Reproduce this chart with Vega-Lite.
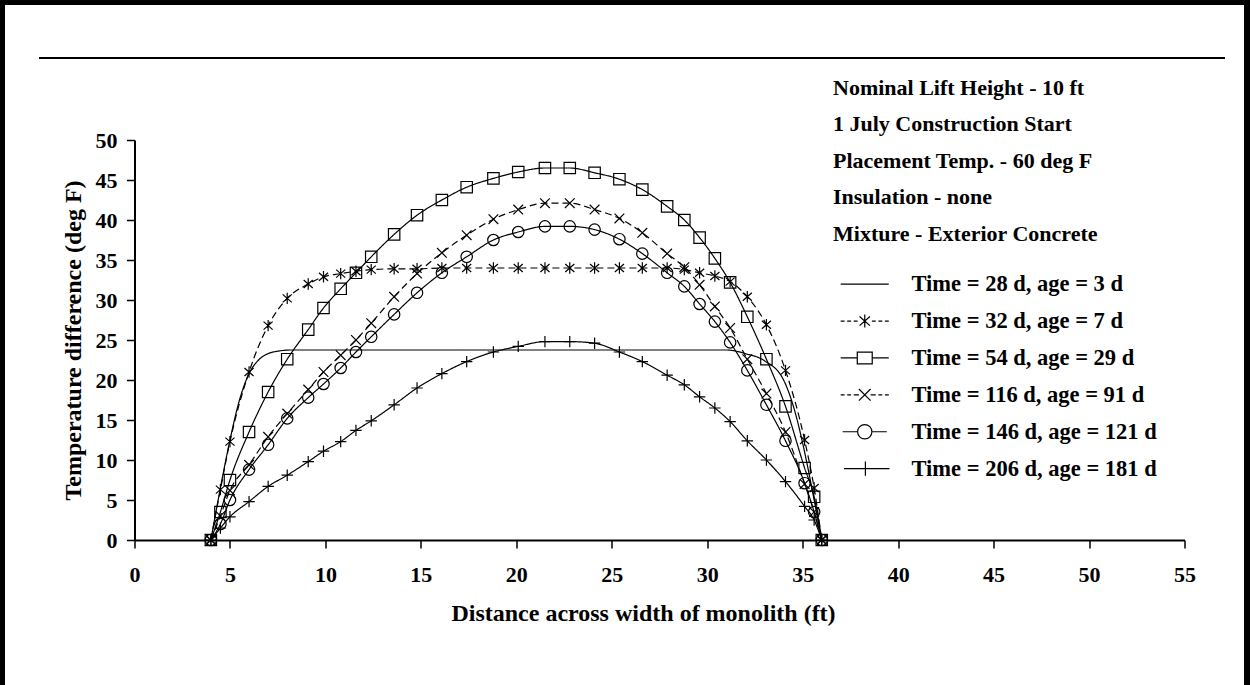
{
  "$schema": "https://vega.github.io/schema/vega-lite/v6.json",
  "width": 1050,
  "height": 400,
  "autosize": {"type": "none"},
  "padding": {"left": 134.5, "top": 140, "right": 65.5, "bottom": 145},
  "background": "white",
  "config": {
    "view": {"stroke": null},
    "font": "Liberation Serif",
    "axis": {
      "domainColor": "black", "domainWidth": 2, "tickColor": "black", "tickWidth": 1.5, "tickSize": 8,
      "labelFont": "Liberation Serif", "labelFontWeight": "bold", "labelFontSize": 22, "labelColor": "black",
      "titleFont": "Liberation Serif", "titleFontWeight": "bold", "titleFontSize": 24, "titleColor": "black",
      "grid": false, "labelFlush": false, "labelOverlap": false
    },
    "axisY": {"tickCount": 14},
    "axisX": {"tickCount": 14},
    "legend": {
      "padding": 0, "offset": 0,
      "titleFont": "Liberation Serif", "titleFontWeight": "bold", "titleFontSize": 22, "titleColor": "black",
      "titleLineHeight": 36.6, "titleAnchor": "start", "titleBaseline": "top", "titleLimit": 500, "titlePadding": 27,
      "labelFont": "Liberation Serif", "labelFontWeight": "bold", "labelFontSize": 22.5, "labelColor": "black", "labelLimit": 500,
      "symbolStrokeColor": "black", "symbolStrokeWidth": 1.2, "symbolFillColor": "transparent", "symbolOpacity": 1
    }
  },
  "datasets": {
    "curves": [
      {"series": "Time = 28 d, age = 3 d", "x": 4, "y": 0},
      {"series": "Time = 28 d, age = 3 d", "x": 4.5, "y": 6.5},
      {"series": "Time = 28 d, age = 3 d", "x": 5, "y": 12.5},
      {"series": "Time = 28 d, age = 3 d", "x": 5.5, "y": 17.5},
      {"series": "Time = 28 d, age = 3 d", "x": 6, "y": 20.8},
      {"series": "Time = 28 d, age = 3 d", "x": 6.5, "y": 22.5},
      {"series": "Time = 28 d, age = 3 d", "x": 7, "y": 23.3},
      {"series": "Time = 28 d, age = 3 d", "x": 7.5, "y": 23.6},
      {"series": "Time = 28 d, age = 3 d", "x": 8.2, "y": 23.75},
      {"series": "Time = 28 d, age = 3 d", "x": 31, "y": 23.75},
      {"series": "Time = 28 d, age = 3 d", "x": 32, "y": 23.3},
      {"series": "Time = 28 d, age = 3 d", "x": 33, "y": 22.4},
      {"series": "Time = 28 d, age = 3 d", "x": 34, "y": 20},
      {"series": "Time = 28 d, age = 3 d", "x": 34.6, "y": 16},
      {"series": "Time = 28 d, age = 3 d", "x": 35.1, "y": 11},
      {"series": "Time = 28 d, age = 3 d", "x": 35.6, "y": 5},
      {"series": "Time = 28 d, age = 3 d", "x": 36, "y": 0},

      {"series": "Time = 32 d, age = 7 d", "x": 4, "y": 0},
      {"series": "Time = 32 d, age = 7 d", "x": 4.5, "y": 6.3},
      {"series": "Time = 32 d, age = 7 d", "x": 5, "y": 12.3},
      {"series": "Time = 32 d, age = 7 d", "x": 6, "y": 21},
      {"series": "Time = 32 d, age = 7 d", "x": 7, "y": 26.8},
      {"series": "Time = 32 d, age = 7 d", "x": 8, "y": 30.2},
      {"series": "Time = 32 d, age = 7 d", "x": 9.1, "y": 32},
      {"series": "Time = 32 d, age = 7 d", "x": 9.9, "y": 32.9},
      {"series": "Time = 32 d, age = 7 d", "x": 10.8, "y": 33.3},
      {"series": "Time = 32 d, age = 7 d", "x": 11.6, "y": 33.6},
      {"series": "Time = 32 d, age = 7 d", "x": 12.4, "y": 33.8},
      {"series": "Time = 32 d, age = 7 d", "x": 13.6, "y": 33.9},
      {"series": "Time = 32 d, age = 7 d", "x": 14.8, "y": 33.9},
      {"series": "Time = 32 d, age = 7 d", "x": 16.1, "y": 34},
      {"series": "Time = 32 d, age = 7 d", "x": 17.4, "y": 34},
      {"series": "Time = 32 d, age = 7 d", "x": 18.8, "y": 34},
      {"series": "Time = 32 d, age = 7 d", "x": 20.1, "y": 34},
      {"series": "Time = 32 d, age = 7 d", "x": 21.5, "y": 34},
      {"series": "Time = 32 d, age = 7 d", "x": 22.8, "y": 34},
      {"series": "Time = 32 d, age = 7 d", "x": 24.1, "y": 34},
      {"series": "Time = 32 d, age = 7 d", "x": 25.4, "y": 34},
      {"series": "Time = 32 d, age = 7 d", "x": 26.6, "y": 34},
      {"series": "Time = 32 d, age = 7 d", "x": 27.9, "y": 34},
      {"series": "Time = 32 d, age = 7 d", "x": 28.8, "y": 33.8},
      {"series": "Time = 32 d, age = 7 d", "x": 29.6, "y": 33.4},
      {"series": "Time = 32 d, age = 7 d", "x": 30.4, "y": 33},
      {"series": "Time = 32 d, age = 7 d", "x": 31.2, "y": 32.3},
      {"series": "Time = 32 d, age = 7 d", "x": 32.1, "y": 30.4},
      {"series": "Time = 32 d, age = 7 d", "x": 33.1, "y": 26.9},
      {"series": "Time = 32 d, age = 7 d", "x": 34.1, "y": 21.2},
      {"series": "Time = 32 d, age = 7 d", "x": 35.1, "y": 12.5},
      {"series": "Time = 32 d, age = 7 d", "x": 35.6, "y": 6.5},
      {"series": "Time = 32 d, age = 7 d", "x": 36, "y": 0},

      {"series": "Time = 54 d, age = 29 d", "x": 4, "y": 0},
      {"series": "Time = 54 d, age = 29 d", "x": 4.5, "y": 3.5},
      {"series": "Time = 54 d, age = 29 d", "x": 5, "y": 7.5},
      {"series": "Time = 54 d, age = 29 d", "x": 6, "y": 13.5},
      {"series": "Time = 54 d, age = 29 d", "x": 7, "y": 18.5},
      {"series": "Time = 54 d, age = 29 d", "x": 8, "y": 22.6},
      {"series": "Time = 54 d, age = 29 d", "x": 9.1, "y": 26.3},
      {"series": "Time = 54 d, age = 29 d", "x": 9.9, "y": 29},
      {"series": "Time = 54 d, age = 29 d", "x": 10.8, "y": 31.4},
      {"series": "Time = 54 d, age = 29 d", "x": 11.6, "y": 33.4},
      {"series": "Time = 54 d, age = 29 d", "x": 12.4, "y": 35.4},
      {"series": "Time = 54 d, age = 29 d", "x": 13.6, "y": 38.2},
      {"series": "Time = 54 d, age = 29 d", "x": 14.8, "y": 40.6},
      {"series": "Time = 54 d, age = 29 d", "x": 16.1, "y": 42.5},
      {"series": "Time = 54 d, age = 29 d", "x": 17.4, "y": 44.1},
      {"series": "Time = 54 d, age = 29 d", "x": 18.8, "y": 45.2},
      {"series": "Time = 54 d, age = 29 d", "x": 20.1, "y": 46},
      {"series": "Time = 54 d, age = 29 d", "x": 21.5, "y": 46.5},
      {"series": "Time = 54 d, age = 29 d", "x": 22.8, "y": 46.5},
      {"series": "Time = 54 d, age = 29 d", "x": 24.1, "y": 45.9},
      {"series": "Time = 54 d, age = 29 d", "x": 25.4, "y": 45.1},
      {"series": "Time = 54 d, age = 29 d", "x": 26.6, "y": 43.8},
      {"series": "Time = 54 d, age = 29 d", "x": 27.9, "y": 41.7},
      {"series": "Time = 54 d, age = 29 d", "x": 28.8, "y": 40},
      {"series": "Time = 54 d, age = 29 d", "x": 29.6, "y": 37.8},
      {"series": "Time = 54 d, age = 29 d", "x": 30.4, "y": 35.2},
      {"series": "Time = 54 d, age = 29 d", "x": 31.2, "y": 32.2},
      {"series": "Time = 54 d, age = 29 d", "x": 32.1, "y": 27.9},
      {"series": "Time = 54 d, age = 29 d", "x": 33.1, "y": 22.6},
      {"series": "Time = 54 d, age = 29 d", "x": 34.1, "y": 16.7},
      {"series": "Time = 54 d, age = 29 d", "x": 35.1, "y": 9},
      {"series": "Time = 54 d, age = 29 d", "x": 35.6, "y": 5.4},
      {"series": "Time = 54 d, age = 29 d", "x": 36, "y": 0},

      {"series": "Time = 116 d, age = 91 d", "x": 4, "y": 0},
      {"series": "Time = 116 d, age = 91 d", "x": 4.5, "y": 3},
      {"series": "Time = 116 d, age = 91 d", "x": 5, "y": 6.2},
      {"series": "Time = 116 d, age = 91 d", "x": 6, "y": 9.4},
      {"series": "Time = 116 d, age = 91 d", "x": 7, "y": 12.9},
      {"series": "Time = 116 d, age = 91 d", "x": 8, "y": 15.8},
      {"series": "Time = 116 d, age = 91 d", "x": 9.1, "y": 18.8},
      {"series": "Time = 116 d, age = 91 d", "x": 9.9, "y": 21},
      {"series": "Time = 116 d, age = 91 d", "x": 10.8, "y": 23.1},
      {"series": "Time = 116 d, age = 91 d", "x": 11.6, "y": 25},
      {"series": "Time = 116 d, age = 91 d", "x": 12.4, "y": 27.1},
      {"series": "Time = 116 d, age = 91 d", "x": 13.6, "y": 30.4},
      {"series": "Time = 116 d, age = 91 d", "x": 14.8, "y": 33.3},
      {"series": "Time = 116 d, age = 91 d", "x": 16.1, "y": 35.9},
      {"series": "Time = 116 d, age = 91 d", "x": 17.4, "y": 38.1},
      {"series": "Time = 116 d, age = 91 d", "x": 18.8, "y": 40.1},
      {"series": "Time = 116 d, age = 91 d", "x": 20.1, "y": 41.3},
      {"series": "Time = 116 d, age = 91 d", "x": 21.5, "y": 42.1},
      {"series": "Time = 116 d, age = 91 d", "x": 22.8, "y": 42.1},
      {"series": "Time = 116 d, age = 91 d", "x": 24.1, "y": 41.3},
      {"series": "Time = 116 d, age = 91 d", "x": 25.4, "y": 40.2},
      {"series": "Time = 116 d, age = 91 d", "x": 26.6, "y": 38.4},
      {"series": "Time = 116 d, age = 91 d", "x": 27.9, "y": 35.8},
      {"series": "Time = 116 d, age = 91 d", "x": 28.8, "y": 34.1},
      {"series": "Time = 116 d, age = 91 d", "x": 29.6, "y": 31.9},
      {"series": "Time = 116 d, age = 91 d", "x": 30.4, "y": 29.2},
      {"series": "Time = 116 d, age = 91 d", "x": 31.2, "y": 26.5},
      {"series": "Time = 116 d, age = 91 d", "x": 32.1, "y": 22.6},
      {"series": "Time = 116 d, age = 91 d", "x": 33.1, "y": 18.3},
      {"series": "Time = 116 d, age = 91 d", "x": 34.1, "y": 13.5},
      {"series": "Time = 116 d, age = 91 d", "x": 35.1, "y": 7},
      {"series": "Time = 116 d, age = 91 d", "x": 35.6, "y": 3.5},
      {"series": "Time = 116 d, age = 91 d", "x": 36, "y": 0},

      {"series": "Time = 146 d, age = 121 d", "x": 4, "y": 0},
      {"series": "Time = 146 d, age = 121 d", "x": 4.5, "y": 2},
      {"series": "Time = 146 d, age = 121 d", "x": 5, "y": 5},
      {"series": "Time = 146 d, age = 121 d", "x": 6, "y": 8.8},
      {"series": "Time = 146 d, age = 121 d", "x": 7, "y": 11.9},
      {"series": "Time = 146 d, age = 121 d", "x": 8, "y": 15.2},
      {"series": "Time = 146 d, age = 121 d", "x": 9.1, "y": 17.8},
      {"series": "Time = 146 d, age = 121 d", "x": 9.9, "y": 19.5},
      {"series": "Time = 146 d, age = 121 d", "x": 10.8, "y": 21.5},
      {"series": "Time = 146 d, age = 121 d", "x": 11.6, "y": 23.5},
      {"series": "Time = 146 d, age = 121 d", "x": 12.4, "y": 25.4},
      {"series": "Time = 146 d, age = 121 d", "x": 13.6, "y": 28.2},
      {"series": "Time = 146 d, age = 121 d", "x": 14.8, "y": 30.9},
      {"series": "Time = 146 d, age = 121 d", "x": 16.1, "y": 33.4},
      {"series": "Time = 146 d, age = 121 d", "x": 17.4, "y": 35.4},
      {"series": "Time = 146 d, age = 121 d", "x": 18.8, "y": 37.5},
      {"series": "Time = 146 d, age = 121 d", "x": 20.1, "y": 38.5},
      {"series": "Time = 146 d, age = 121 d", "x": 21.5, "y": 39.2},
      {"series": "Time = 146 d, age = 121 d", "x": 22.8, "y": 39.2},
      {"series": "Time = 146 d, age = 121 d", "x": 24.1, "y": 38.8},
      {"series": "Time = 146 d, age = 121 d", "x": 25.4, "y": 37.6},
      {"series": "Time = 146 d, age = 121 d", "x": 26.6, "y": 35.8},
      {"series": "Time = 146 d, age = 121 d", "x": 27.9, "y": 33.4},
      {"series": "Time = 146 d, age = 121 d", "x": 28.8, "y": 31.7},
      {"series": "Time = 146 d, age = 121 d", "x": 29.6, "y": 29.5},
      {"series": "Time = 146 d, age = 121 d", "x": 30.4, "y": 27.3},
      {"series": "Time = 146 d, age = 121 d", "x": 31.2, "y": 24.7},
      {"series": "Time = 146 d, age = 121 d", "x": 32.1, "y": 21.2},
      {"series": "Time = 146 d, age = 121 d", "x": 33.1, "y": 16.9},
      {"series": "Time = 146 d, age = 121 d", "x": 34.1, "y": 12.4},
      {"series": "Time = 146 d, age = 121 d", "x": 35.1, "y": 7.1},
      {"series": "Time = 146 d, age = 121 d", "x": 35.6, "y": 3.5},
      {"series": "Time = 146 d, age = 121 d", "x": 36, "y": 0},

      {"series": "Time = 206 d, age = 181 d", "x": 4, "y": 0},
      {"series": "Time = 206 d, age = 181 d", "x": 4.5, "y": 1.5},
      {"series": "Time = 206 d, age = 181 d", "x": 5, "y": 2.9},
      {"series": "Time = 206 d, age = 181 d", "x": 6, "y": 4.8},
      {"series": "Time = 206 d, age = 181 d", "x": 7, "y": 6.7},
      {"series": "Time = 206 d, age = 181 d", "x": 8, "y": 8.1},
      {"series": "Time = 206 d, age = 181 d", "x": 9.1, "y": 9.8},
      {"series": "Time = 206 d, age = 181 d", "x": 9.9, "y": 11.1},
      {"series": "Time = 206 d, age = 181 d", "x": 10.8, "y": 12.3},
      {"series": "Time = 206 d, age = 181 d", "x": 11.6, "y": 13.7},
      {"series": "Time = 206 d, age = 181 d", "x": 12.4, "y": 14.9},
      {"series": "Time = 206 d, age = 181 d", "x": 13.6, "y": 16.9},
      {"series": "Time = 206 d, age = 181 d", "x": 14.8, "y": 19},
      {"series": "Time = 206 d, age = 181 d", "x": 16.1, "y": 20.8},
      {"series": "Time = 206 d, age = 181 d", "x": 17.4, "y": 22.3},
      {"series": "Time = 206 d, age = 181 d", "x": 18.8, "y": 23.5},
      {"series": "Time = 206 d, age = 181 d", "x": 20.1, "y": 24.2},
      {"series": "Time = 206 d, age = 181 d", "x": 21.5, "y": 24.8},
      {"series": "Time = 206 d, age = 181 d", "x": 22.8, "y": 24.8},
      {"series": "Time = 206 d, age = 181 d", "x": 24.1, "y": 24.6},
      {"series": "Time = 206 d, age = 181 d", "x": 25.4, "y": 23.5},
      {"series": "Time = 206 d, age = 181 d", "x": 26.6, "y": 22.3},
      {"series": "Time = 206 d, age = 181 d", "x": 27.9, "y": 20.6},
      {"series": "Time = 206 d, age = 181 d", "x": 28.8, "y": 19.4},
      {"series": "Time = 206 d, age = 181 d", "x": 29.6, "y": 17.9},
      {"series": "Time = 206 d, age = 181 d", "x": 30.4, "y": 16.5},
      {"series": "Time = 206 d, age = 181 d", "x": 31.2, "y": 14.8},
      {"series": "Time = 206 d, age = 181 d", "x": 32.1, "y": 12.4},
      {"series": "Time = 206 d, age = 181 d", "x": 33.1, "y": 10},
      {"series": "Time = 206 d, age = 181 d", "x": 34.1, "y": 7.3},
      {"series": "Time = 206 d, age = 181 d", "x": 35.1, "y": 4.2},
      {"series": "Time = 206 d, age = 181 d", "x": 35.6, "y": 2.5},
      {"series": "Time = 206 d, age = 181 d", "x": 36, "y": 0}
    ]
  },
  "data": {"name": "curves"},
  "resolve": {"scale": {"shape": "independent"}},
  "layer": [
    {
      "mark": {"type": "line", "color": "black", "strokeWidth": 1.2, "interpolate": "monotone"},
      "encoding": {
        "x": {
          "field": "x", "type": "quantitative",
          "scale": {"domain": [0, 55], "nice": false, "zero": false},
          "axis": {"values": [0,5,10,15,20,25,30,35,40,45,50,55], "tickCount": 14, "title": "Distance across width of monolith  (ft)", "labelPadding": 16, "titlePadding": 16, "titleX": 508.5}
        },
        "y": {
          "field": "y", "type": "quantitative",
          "scale": {"domain": [0, 50], "nice": false},
          "axis": {"values": [0,5,10,15,20,25,30,35,40,45,50], "tickCount": 14, "title": "Temperature difference  (deg F)", "labelPadding": 9.5, "titlePadding": 10}
        },
        "strokeDash": {
          "field": "series", "type": "nominal", "legend": null,
          "scale": {
            "domain": ["Time = 28 d, age = 3 d", "Time = 32 d, age = 7 d", "Time = 54 d, age = 29 d", "Time = 116 d, age = 91 d", "Time = 146 d, age = 121 d", "Time = 206 d, age = 181 d"],
            "range": [[1, 0], [7, 4], [1, 0], [7, 4], [1, 0], [1, 0]]
          }
        }
      }
    },
    {
      "mark": {"type": "rect", "fill": null, "stroke": "black", "strokeWidth": 5},
      "encoding": {
        "x": {"datum": -6.94, "type": "quantitative", "axis": {"values": [0,5,10,15,20,25,30,35,40,45,50,55], "tickCount": 14, "title": "Distance across width of monolith  (ft)", "labelPadding": 16, "titlePadding": 16, "titleX": 508.5}},
        "x2": {"datum": 58.28},
        "y": {"datum": 67.19, "type": "quantitative", "axis": {"values": [0,5,10,15,20,25,30,35,40,45,50], "tickCount": 14, "title": "Temperature difference  (deg F)", "labelPadding": 9.5, "titlePadding": 10}},
        "y2": {"datum": -20}
      }
    },
    {
      "mark": {"type": "rule", "stroke": "black", "strokeWidth": 2},
      "encoding": {
        "x": {"datum": -4.98, "type": "quantitative", "axis": {"values": [0,5,10,15,20,25,30,35,40,45,50,55], "tickCount": 14, "title": "Distance across width of monolith  (ft)", "labelPadding": 16, "titlePadding": 16, "titleX": 508.5}},
        "x2": {"datum": 57.1},
        "y": {"datum": 60.25, "type": "quantitative", "axis": {"values": [0,5,10,15,20,25,30,35,40,45,50], "tickCount": 14, "title": "Temperature difference  (deg F)", "labelPadding": 9.5, "titlePadding": 10}}
      }
    },
    {
      "transform": [{"filter": "datum.series != 'Time = 28 d, age = 3 d'"}],
      "mark": {"type": "point", "filled": false, "color": "black", "strokeWidth": 1.2, "size": 130, "opacity": 1},
      "encoding": {
        "x": {"field": "x", "type": "quantitative", "axis": {"values": [0,5,10,15,20,25,30,35,40,45,50,55], "tickCount": 14, "title": "Distance across width of monolith  (ft)", "labelPadding": 16, "titlePadding": 16, "titleX": 508.5}},
        "y": {"field": "y", "type": "quantitative", "axis": {"values": [0,5,10,15,20,25,30,35,40,45,50], "tickCount": 14, "title": "Temperature difference  (deg F)", "labelPadding": 9.5, "titlePadding": 10}},
        "shape": {
          "field": "series", "type": "nominal", "legend": null,
          "scale": {
            "domain": ["Time = 32 d, age = 7 d", "Time = 54 d, age = 29 d", "Time = 116 d, age = 91 d", "Time = 146 d, age = 121 d", "Time = 206 d, age = 181 d"],
            "range": [
              "M0,-1V1M-0.8,-0.7L0.8,0.7M-0.8,0.7L0.8,-0.7",
              "square",
              "M-0.85,-0.85L0.85,0.85M-0.85,0.85L0.85,-0.85",
              "circle",
              "M-1,0H1M0,-1V1"
            ]
          }
        }
      }
    },
    {
      "mark": {"type": "point", "filled": false, "color": "black", "strokeWidth": 1.2, "size": 169, "opacity": 0},
      "encoding": {
        "x": {"field": "x", "type": "quantitative", "axis": {"values": [0,5,10,15,20,25,30,35,40,45,50,55], "tickCount": 14, "title": "Distance across width of monolith  (ft)", "labelPadding": 16, "titlePadding": 16, "titleX": 508.5}},
        "y": {"field": "y", "type": "quantitative", "axis": {"values": [0,5,10,15,20,25,30,35,40,45,50], "tickCount": 14, "title": "Temperature difference  (deg F)", "labelPadding": 9.5, "titlePadding": 10}},
        "shape": {
          "field": "series", "type": "nominal",
          "scale": {
            "domain": ["Time = 28 d, age = 3 d", "Time = 32 d, age = 7 d", "Time = 54 d, age = 29 d", "Time = 116 d, age = 91 d", "Time = 146 d, age = 121 d", "Time = 206 d, age = 181 d"],
            "range": [
              "M-3.7,0H3.7",
              "M-3.7,0H-3.1M-2.7,0H-2.1M-1.7,0H-1.1M1.1,0H1.7M2.1,0H2.7M3.1,0H3.7M0,-1V1M-0.8,-0.7L0.8,0.7M-0.8,0.7L0.8,-0.7",
              "M-3.7,0H-1.15M1.15,0H3.7M-1.15,-0.9H1.15V0.9H-1.15Z",
              "M-3.7,0H-3.1M-2.7,0H-2.1M-1.7,0H-0.9M0.9,0H1.7M2.1,0H2.7M3.1,0H3.7M-0.9,-0.9L0.9,0.9M-0.9,0.9L0.9,-0.9",
              "M-3.4,0H-1.1M1.1,0H3.4M-1.1,0A1.1,1.1 0 1,0 1.1,0A1.1,1.1 0 1,0 -1.1,0",
              "M-3.2,0H3.8M0.1,-1.1V1.1"
            ]
          },
          "legend": {
            "title": ["Nominal Lift Height - 10 ft", "1 July Construction Start", "Placement Temp. - 60 deg F", "Insulation - none", "Mixture - Exterior Concrete"],
            "orient": "none", "legendX": 698.5, "legendY": -62.5, "direction": "vertical",
            "symbolSize": 169, "symbolOffset": 20.5, "labelOffset": 35.5, "rowPadding": 13.9
          }
        }
      }
    }
  ]
}
